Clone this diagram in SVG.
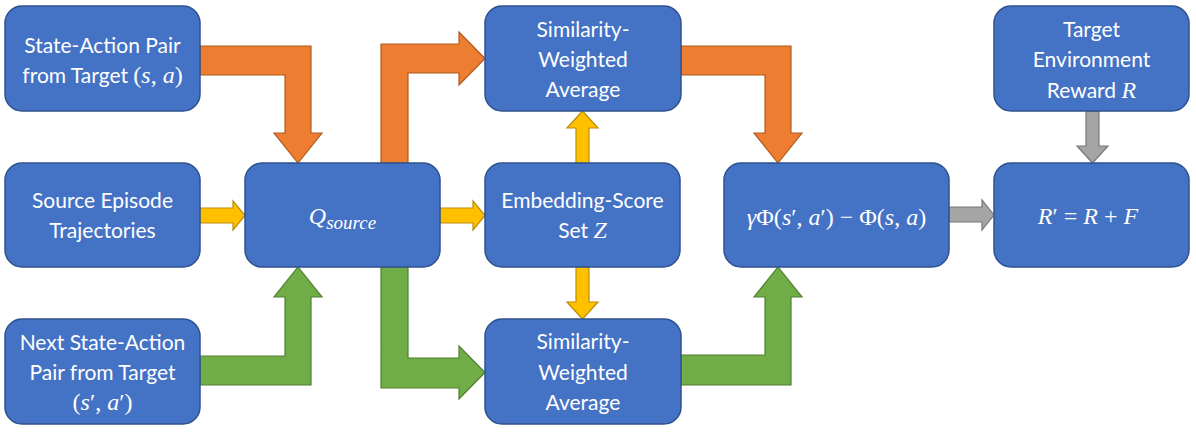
<svg xmlns="http://www.w3.org/2000/svg" width="1196" height="432" viewBox="0 0 1196 432">
<style>
.box{fill:#4472C4;stroke:#2F528F;stroke-width:1.5}
.t{font-family:Lato,"Open Sans","Liberation Sans",sans-serif;font-size:21px;fill:#ffffff;text-anchor:middle}
.m{font-family:"Liberation Serif","DejaVu Serif",serif;font-size:24px;fill:#ffffff}
.i{font-style:italic}
.or{fill:#ED7D31;stroke:#AE5A21;stroke-width:1.2}
.ye{fill:#FFC000;stroke:#BC8C00;stroke-width:1.2}
.gr{fill:#70AD47;stroke:#507E32;stroke-width:1.2}
.gy{fill:#A5A5A5;stroke:#787878;stroke-width:1.2}
</style>
<rect width="1196" height="432" fill="#ffffff"/>
<g id="connectors">
<polygon class="or" points="200,46 311,46 311,133 322,133 298,163 274,133 285,133 285,75 200,75"/>
<polygon class="or" points="381,163 381,44 459,44 459,32 485,58.5 459,85 459,73 408,73 408,163"/>
<polygon class="or" points="681,46 791,46 791,133 802,133 778,163 754,133 765,133 765,75 681,75"/>
<polygon class="gr" points="200,356 285,356 285,297 274,297 298,267 322,297 311,297 311,385 200,385"/>
<polygon class="gr" points="381,267 408,267 408,358 459,358 459,346 485,372.5 459,399 459,388 381,388"/>
<polygon class="gr" points="681,355 765,355 765,297 754,297 778,267 802,297 791,297 791,385 681,385"/>
<polygon class="ye" points="200,208 233,208 233,201 245,215.5 233,230 233,223 200,223"/>
<polygon class="ye" points="440,208 473,208 473,201 485,215.5 473,230 473,223 440,223"/>
<polygon class="ye" points="576,163 576,128 567,128 582.5,111 598,128 589,128 589,163"/>
<polygon class="ye" points="576,267 576,302 567,302 582.5,319 598,302 589,302 589,267"/>
<polygon class="gy" points="1086,111 1086,146 1077,146 1092.5,163 1108,146 1099,146 1099,111"/>
<polygon class="gy" points="949,207 982,207 982,200 994,215 982,230 982,222 949,222"/>
</g>
<g id="state-action">
<rect class="box" x="5" y="6" width="195" height="105" rx="17"/>
<text class="t" x="102.5" y="53">State-Action Pair</text>
<text class="t" x="102.5" y="83">from Target <tspan class="m">(<tspan class="i">s</tspan>, <tspan class="i">a</tspan>)</tspan></text>
</g>
<g id="source-episode">
<rect class="box" x="5" y="163" width="195" height="104" rx="17"/>
<text class="t" x="102.5" y="208">Source Episode</text>
<text class="t" x="102.5" y="238">Trajectories</text>
</g>
<g id="next-state-action">
<rect class="box" x="5" y="319" width="195" height="105" rx="17"/>
<text class="t" x="102.5" y="350">Next State-Action</text>
<text class="t" x="102.5" y="380">Pair from Target</text>
<text class="m" x="102.5" y="410" text-anchor="middle">(<tspan class="i">s</tspan>′, <tspan class="i">a</tspan>′)</text>
</g>
<g id="q-source">
<rect class="box" x="245" y="163" width="195" height="104" rx="17"/>
<text class="m i" x="342.5" y="224" text-anchor="middle" font-size="26">Q<tspan font-size="19" dy="5">source</tspan></text>
</g>
<g id="similarity-top">
<rect class="box" x="485" y="6" width="196" height="105" rx="17"/>
<text class="t" x="583" y="37">Similarity-</text>
<text class="t" x="583" y="67">Weighted</text>
<text class="t" x="583" y="97">Average</text>
</g>
<g id="embedding-score">
<rect class="box" x="485" y="163" width="195" height="104" rx="17"/>
<text class="t" x="582.5" y="208">Embedding-Score</text>
<text class="t" x="582.5" y="238">Set <tspan class="m i">Z</tspan></text>
</g>
<g id="similarity-bottom">
<rect class="box" x="485" y="319" width="196" height="105" rx="17"/>
<text class="t" x="583" y="349">Similarity-</text>
<text class="t" x="583" y="380">Weighted</text>
<text class="t" x="583" y="410">Average</text>
</g>
<g id="potential-difference">
<rect class="box" x="724" y="163" width="225" height="104" rx="17"/>
<text class="m" x="836.5" y="225" text-anchor="middle"><tspan class="i">γ</tspan>Φ(<tspan class="i">s</tspan>′, <tspan class="i">a</tspan>′) − Φ(<tspan class="i">s</tspan>, <tspan class="i">a</tspan>)</text>
</g>
<g id="target-reward">
<rect class="box" x="994" y="6" width="195" height="105" rx="17"/>
<text class="t" x="1091.5" y="37">Target</text>
<text class="t" x="1091.5" y="67">Environment</text>
<text class="t" x="1091.5" y="98">Reward <tspan class="m i">R</tspan></text>
</g>
<g id="shaped-reward">
<rect class="box" x="994" y="163" width="195" height="104" rx="17"/>
<text class="m" x="1088" y="224" text-anchor="middle" font-size="25"><tspan class="i">R</tspan>′ = <tspan class="i">R</tspan> + <tspan class="i">F</tspan></text>
</g>
</svg>
